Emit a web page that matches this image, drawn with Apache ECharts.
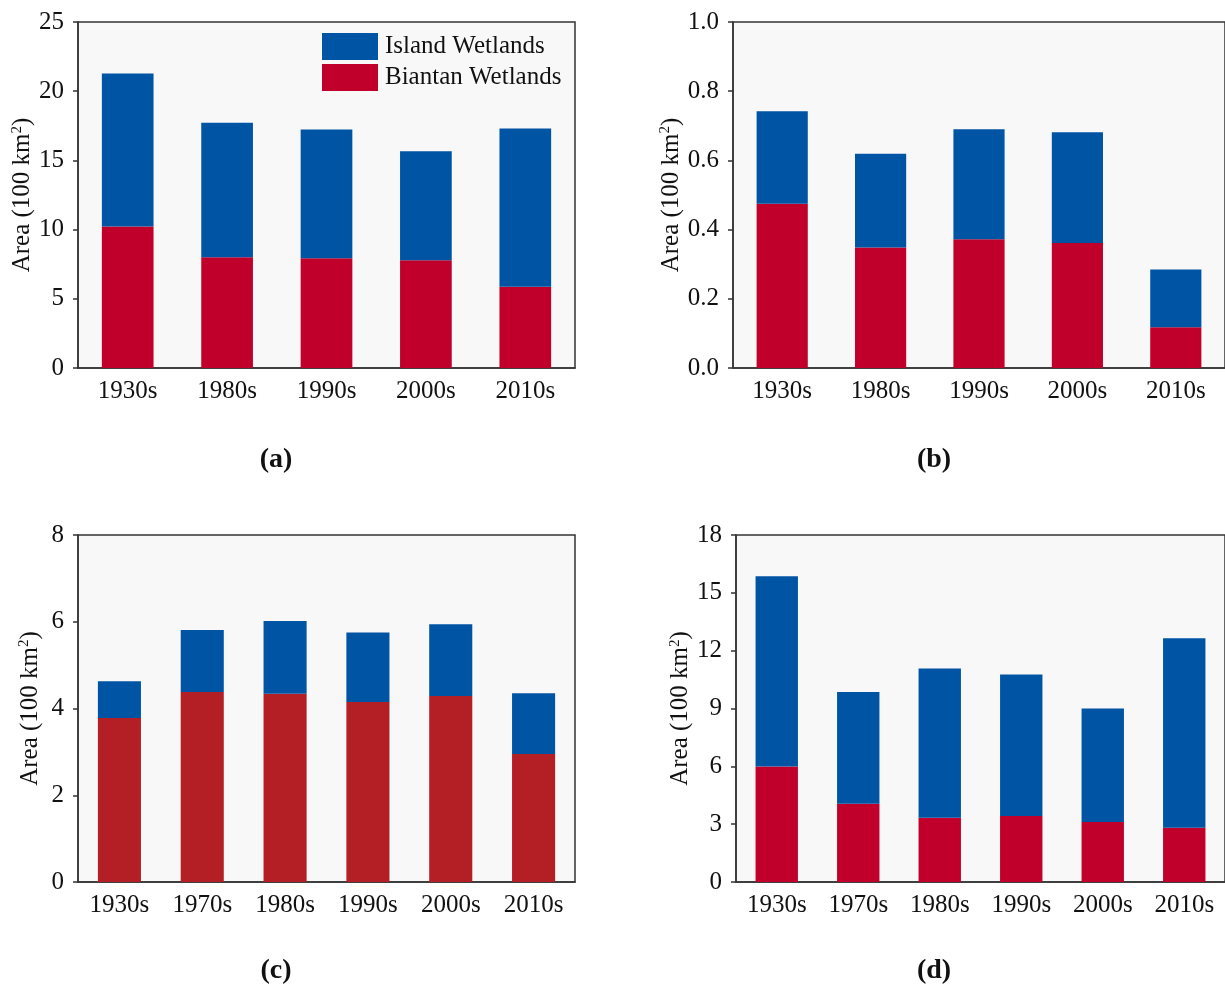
<!DOCTYPE html>
<html>
<head>
<meta charset="utf-8">
<script src="https://cdn.jsdelivr.net/npm/echarts@6/dist/echarts.min.js"></script>
<style>
  html, body { margin: 0; padding: 0; background: #fff; }
  #main { width: 1225px; height: 985px; }
</style>
</head>
<body>
<div id="main"></div>
<script>
// categories
const catsAB = ['1930s', '1980s', '1990s', '2000s', '2010s'];
const catsCD = ['1930s', '1970s', '1980s', '1990s', '2000s', '2010s'];

// (a)
const biantanA = [10.22, 8.0, 7.93, 7.79, 5.87];
const islandA = [11.05, 9.72, 9.31, 7.88, 11.44];
// (b)
const biantanB = [0.475, 0.348, 0.372, 0.361, 0.118];
const islandB = [0.267, 0.271, 0.318, 0.320, 0.167];
// (c)
const biantanC = [3.78, 4.38, 4.34, 4.15, 4.29, 2.95];
const islandC = [0.85, 1.43, 1.68, 1.60, 1.65, 1.40];
// (d)
const biantanD = [5.99, 4.06, 3.33, 3.42, 3.11, 2.82];
const islandD = [9.87, 5.79, 7.74, 7.34, 5.89, 9.82];

// y axis ranges
const yMax = [25, 1.0, 8, 18];
const yStep = [5, 0.2, 2, 3];

const BLUE = '#0054a4';
const RED = '#c0002a';
const RED_C = '#b31f24';
const FONT = '"Liberation Serif", "DejaVu Serif", serif';

var chart = echarts.init(document.getElementById('main'));

const grids = [
  { left: 78, top: 22, width: 497, height: 346 },
  { left: 733, top: 22, width: 500, height: 346 },
  { left: 78, top: 535, width: 497, height: 347 },
  { left: 736, top: 535, width: 500, height: 347 }
].map(g => Object.assign(g, {
  show: true,
  backgroundColor: '#f8f8f8',
  borderColor: '#333',
  borderWidth: 1.5
}));

// distance of the y name from the axis line, per panel
const nameGaps = [34, 46, 34, 41];

function xAxis(i, data) {
  return {
    type: 'category',
    gridIndex: i,
    data: data,
    axisLine: { lineStyle: { color: '#333', width: 1.5 } },
    axisTick: { alignWithLabel: true, length: 5, lineStyle: { color: '#333', width: 1.5 } },
    axisLabel: { color: '#111', fontSize: 25, fontFamily: FONT, margin: 11 },
    splitLine: { show: false }
  };
}

function yAxis(i) {
  return {
    type: 'value',
    gridIndex: i,
    min: 0,
    max: yMax[i],
    interval: yStep[i],
    name: '{n|Area (100 km}{s|2}{n|)}',
    nameLocation: 'middle',
    nameGap: nameGaps[i],
    nameRotate: 90,
    nameTextStyle: {
      rich: {
        n: { fontSize: 25, fontFamily: FONT, color: '#111' },
        s: { fontSize: 15, fontFamily: FONT, color: '#111', verticalAlign: 'top', padding: [0, 0, 12, 0] }
      }
    },
    axisLine: { show: true, lineStyle: { color: '#333', width: 1.5 } },
    axisTick: { show: true, length: 5, lineStyle: { color: '#333', width: 1.5 } },
    axisLabel: {
      color: '#111', fontSize: 25, fontFamily: FONT, margin: 14,
      formatter: v => i === 1 ? v.toFixed(1) : String(v)
    },
    splitLine: { show: false }
  };
}

function bars(i, name, data, color) {
  return {
    name: name,
    type: 'bar',
    xAxisIndex: i,
    yAxisIndex: i,
    stack: 's' + i,
    barWidth: '52%',
    data: data,
    itemStyle: { color: color },
    emphasis: { disabled: true }
  };
}

const option = {
  animation: false,
  backgroundColor: '#fff',
  textStyle: { fontFamily: FONT },
  grid: grids,
  xAxis: [xAxis(0, catsAB), xAxis(1, catsAB), xAxis(2, catsCD), xAxis(3, catsCD)],
  yAxis: [yAxis(0), yAxis(1), yAxis(2), yAxis(3)],
  legend: {
    data: ['Island Wetlands', 'Biantan Wetlands'],
    orient: 'vertical',
    left: 322,
    top: 33,
    padding: 0,
    itemWidth: 56,
    itemHeight: 27,
    itemGap: 4,
    icon: 'rect',
    textStyle: { fontSize: 25, fontFamily: FONT, color: '#111', padding: [0, 0, 0, 2] }
  },
  title: [
    { text: '(a)', left: 276, top: 446 },
    { text: '(b)', left: 934, top: 446 },
    { text: '(c)', left: 276, top: 957 },
    { text: '(d)', left: 934, top: 957 }
  ].map(t => Object.assign(t, {
    textAlign: 'center',
    padding: 0,
    textStyle: { fontSize: 28, fontWeight: 'bold', fontFamily: FONT, color: '#111' }
  })),
  series: [
    bars(0, 'Biantan Wetlands', biantanA, RED),
    bars(0, 'Island Wetlands', islandA, BLUE),
    bars(1, 'Biantan Wetlands', biantanB, RED),
    bars(1, 'Island Wetlands', islandB, BLUE),
    bars(2, 'Biantan Wetlands', biantanC, RED_C),
    bars(2, 'Island Wetlands', islandC, BLUE),
    bars(3, 'Biantan Wetlands', biantanD, RED),
    bars(3, 'Island Wetlands', islandD, BLUE)
  ]
};

chart.setOption(option);
</script>
</body>
</html>
